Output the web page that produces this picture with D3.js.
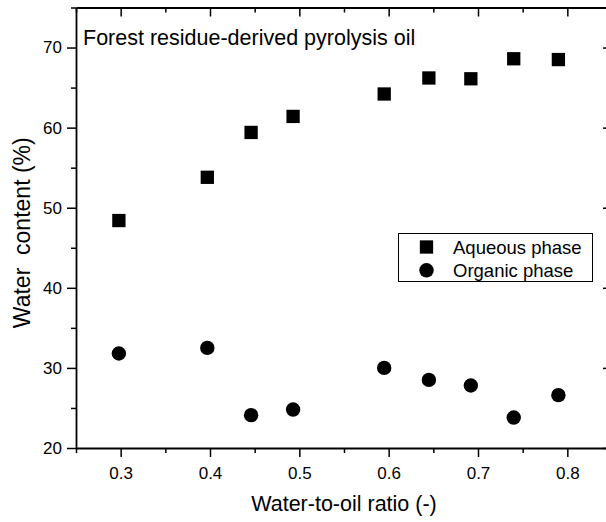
<!DOCTYPE html>
<html>
<head>
<meta charset="utf-8">
<script src="https://cdn.jsdelivr.net/npm/d3@7"></script>
<style>
  html, body { margin: 0; padding: 0; background: #fff; }
  svg { display: block; font-family: Arial, "Liberation Sans", sans-serif; }
</style>
</head>
<body>
<svg id="chart" width="606" height="522"></svg>
<script>
// Water-to-oil ratio used for each test
const ratios = [0.298, 0.397, 0.446, 0.493, 0.595, 0.645, 0.692, 0.740, 0.790];
// Water content of the two phases (%)
const aqueous = [48.4, 53.8, 59.4, 61.4, 64.2, 66.2, 66.1, 68.6, 68.5];
const organic = [31.8, 32.5, 24.1, 24.8, 30.0, 28.5, 27.8, 23.8, 26.6];
const xTicks = [0.3, 0.4, 0.5, 0.6, 0.7, 0.8];
const yTicks = [20, 30, 40, 50, 60, 70];
const seriesNames = ["Aqueous phase", "Organic phase"];

const svg = d3.select("#chart");
const plotLeft = 76, plotRight = 612, plotTop = 7.5, plotBottom = 448;

const x = d3.scaleLinear().domain([0.25, 0.85]).range([plotLeft, plotRight]);
const y = d3.scaleLinear().domain([20, 75]).range([plotBottom, plotTop]);

const xMinor = d3.range(0.25, 0.851, 0.05).map(v => +v.toFixed(2)).filter(v => !xTicks.includes(v));
const yMinor = d3.range(25, 75.1, 10);

function styleAxis(g) {
  g.selectAll("path.domain").attr("stroke", "#000").attr("stroke-width", 1.8);
  g.selectAll(".tick line").attr("stroke", "#000").attr("stroke-width", 1.5);
  g.selectAll(".tick text").attr("fill", "#000").attr("font-size", 17);
}

// bottom axis, major + minor
svg.append("g").attr("transform", `translate(0,${plotBottom})`)
  .call(d3.axisBottom(x).tickValues(xTicks).tickFormat(d3.format(".1f")).tickSize(9).tickSizeOuter(0).tickPadding(10))
  .call(styleAxis);
svg.append("g").attr("transform", `translate(0,${plotBottom})`)
  .call(d3.axisBottom(x).tickValues(xMinor).tickFormat("").tickSize(5).tickSizeOuter(0))
  .call(styleAxis).select("path.domain").remove();

// top axis, ticks pointing inward
svg.append("g").attr("transform", `translate(0,${plotTop})`)
  .call(d3.axisBottom(x).tickValues(xTicks).tickFormat("").tickSize(9).tickSizeOuter(0))
  .call(styleAxis);
svg.append("g").attr("transform", `translate(0,${plotTop})`)
  .call(d3.axisBottom(x).tickValues(xMinor).tickFormat("").tickSize(5).tickSizeOuter(0))
  .call(styleAxis).select("path.domain").remove();

// left axis
svg.append("g").attr("transform", `translate(${plotLeft},0)`)
  .call(d3.axisLeft(y).tickValues(yTicks).tickSize(9).tickSizeOuter(0).tickPadding(5))
  .call(styleAxis);
svg.append("g").attr("transform", `translate(${plotLeft},0)`)
  .call(d3.axisLeft(y).tickValues(yMinor).tickFormat("").tickSize(5).tickSizeOuter(0))
  .call(styleAxis).select("path.domain").remove();

// right axis, ticks pointing inward
svg.append("g").attr("transform", `translate(${plotRight},0)`)
  .call(d3.axisLeft(y).tickValues(yTicks).tickFormat("").tickSize(9).tickSizeOuter(0))
  .call(styleAxis);
svg.append("g").attr("transform", `translate(${plotRight},0)`)
  .call(d3.axisLeft(y).tickValues(yMinor).tickFormat("").tickSize(5).tickSizeOuter(0))
  .call(styleAxis).select("path.domain").remove();

// axis titles, centred on their axes
svg.append("text")
  .attr("x", (plotLeft + plotRight) / 2).attr("y", 511)
  .attr("text-anchor", "middle").attr("font-size", 21.5)
  .text("Water-to-oil ratio (-)");
svg.append("text")
  .attr("transform", `translate(29.5,${(plotTop + plotBottom) / 2 + 5}) rotate(-90)`)
  .attr("text-anchor", "middle").attr("font-size", 23)
  .style("white-space", "pre")
  .text("Water  content (%)");

// panel title
svg.append("text")
  .attr("x", 83).attr("y", 44.5)
  .attr("font-size", 21.5)
  .text("Forest residue-derived pyrolysis oil");

// markers
const sq = 13.3, r = 7.2;
svg.append("g").selectAll("rect").data(ratios).join("rect")
  .attr("x", (d) => x(d) - sq / 2)
  .attr("y", (d, i) => y(aqueous[i]) - sq / 2)
  .attr("width", sq).attr("height", sq).attr("fill", "#000");
svg.append("g").selectAll("circle").data(ratios).join("circle")
  .attr("cx", (d) => x(d))
  .attr("cy", (d, i) => y(organic[i]))
  .attr("r", r).attr("fill", "#000");

// legend
const lg = svg.append("g");
lg.append("rect").attr("x", 398.5).attr("y", 233.5).attr("width", 194).attr("height", 48)
  .attr("fill", "#fff").attr("stroke", "#000").attr("stroke-width", 1);
lg.append("rect").attr("x", 426.5 - sq / 2).attr("y", 247 - sq / 2).attr("width", sq).attr("height", sq).attr("fill", "#000");
lg.append("circle").attr("cx", 426.5).attr("cy", 270.3).attr("r", r).attr("fill", "#000");
seriesNames.forEach((name, i) => {
  lg.append("text").attr("x", 453).attr("y", 253.5 + i * 23.5)
    .attr("font-size", 18.5).text(name);
});
</script>
</body>
</html>
